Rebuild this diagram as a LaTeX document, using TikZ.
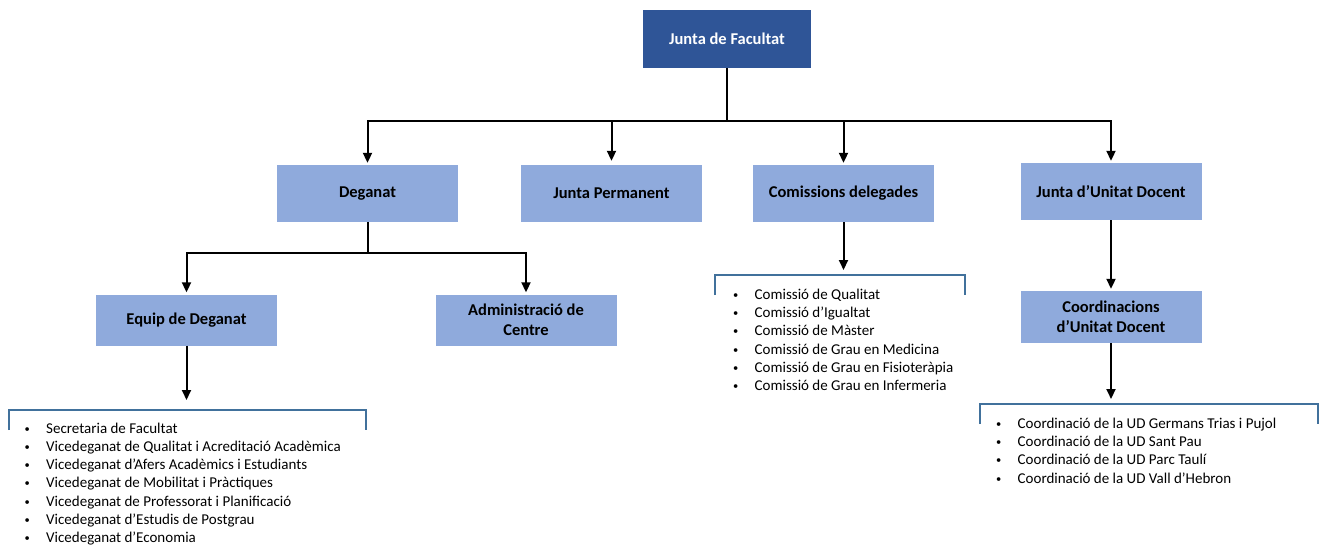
\documentclass[tikz,border=0pt]{standalone}
\usepackage{fontspec}
\setmainfont{Carlito}
\usepackage{xcolor}
\usepackage{graphicx}
\usetikzlibrary{arrows.meta}

\definecolor{darkbox}{HTML}{2F5597}
\definecolor{lightbox}{HTML}{8FAADC}
\definecolor{bracketcol}{HTML}{41719C}
\newcommand{\itm}[1]{\makebox[21.5pt][l]{\raisebox{1pt}{\scalebox{0.7}{\textbullet}}}#1}

\begin{document}
\begin{tikzpicture}[x=1pt, y=-1pt,
  topbox/.style={fill=darkbox, text=white, font=\bfseries\fontsize{16.5}{20}\selectfont, minimum width=168pt, minimum height=58pt, inner sep=0pt},
  unitbox/.style={fill=lightbox, text=black, font=\bfseries\fontsize{16.5}{20}\selectfont, minimum width=181pt, minimum height=57pt, inner sep=0pt, align=center},
  link/.style={line width=2pt},
  arr/.style={line width=2pt, -{Triangle[width=9pt,length=10pt]}},
  bracket/.style={draw=bracketcol, line width=1.3pt},
  items/.style={anchor=base west, align=left, inner sep=0pt, font=\fontsize{15}{18.2}\selectfont}]
  \useasboundingbox (0,0) rectangle (1320,552);

  \node[topbox] (jf) at (727,39) {Junta de Facultat};

  \node[unitbox] (deg) at (367.5,193.5) {Deganat};
  \node[unitbox] (jp) at (611.5,193.5) {Junta Permanent};
  \node[unitbox] (cd) at (843.5,193.5) {Comissions delegades};
  \node[unitbox] (jud) at (1111,191.5) {Junta d’Unitat Docent};

  \node[unitbox, minimum height=51pt] (eq) at (186.5,320) {Equip de Deganat};
  \node[unitbox, minimum height=51pt] (adm) at (526,320) {Administració de\\Centre};
  \node[unitbox, minimum height=52pt] (cud) at (1111,317) {Coordinacions\\d’Unitat Docent};

  \coordinate (bus1) at (727,121);
  \draw[link] (jf.south) -- (bus1);
  \draw[arr] (bus1) -| ([yshift=2pt]deg.north);
  \draw[arr] (bus1) -| ([yshift=4pt]jp.north);
  \draw[arr] (bus1) -| ([yshift=2pt]cd.north);
  \draw[arr] (bus1) -| ([yshift=2pt]jud.north);

  \coordinate (bus2) at (367.5,253);
  \draw[link] (deg.south) -- (bus2);
  \draw[arr] (bus2) -| ([yshift=2pt]eq.north);
  \draw[arr] (bus2) -| ([yshift=2pt]adm.north);
  \draw[arr] (jud.south) -- ([yshift=2pt]cud.north);

  % list brackets
  \coordinate (top1) at (186.5,410);
  \coordinate (top2) at (843.5,275);
  \coordinate (top3) at (1111,404);
  \draw[bracket] (9,430) |- (366,410) -- (366,430);
  \draw[bracket] (715,295) |- (965,275) -- (965,295);
  \draw[bracket] (980,424) |- (1318,404) -- (1318,424);
  \draw[arr] (eq.south) -- ([yshift=10pt]top1);
  \draw[arr] (cd.south) -- ([yshift=5pt]top2);
  \draw[arr] (cud.south) -- ([yshift=5pt]top3);

  \node[items] (l1) at (24.5,542.5) {\itm{Secretaria de Facultat}\\
    \itm{Vicedeganat de Qualitat i Acreditació Acadèmica}\\
    \itm{Vicedeganat d’Afers Acadèmics i Estudiants}\\
    \itm{Vicedeganat de Mobilitat i Pràctiques}\\
    \itm{Vicedeganat de Professorat i Planificació}\\
    \itm{Vicedeganat d’Estudis de Postgrau}\\
    \itm{Vicedeganat d’Economia}};
  \node[items] (l2) at (733,390.5) {\itm{Comissió de Qualitat}\\
    \itm{Comissió d’Igualtat}\\
    \itm{Comissió de Màster}\\
    \itm{Comissió de Grau en Medicina}\\
    \itm{Comissió de Grau en Fisioteràpia}\\
    \itm{Comissió de Grau en Infermeria}};
  \node[items] (l3) at (996,483) {\itm{Coordinació de la UD Germans Trias i Pujol}\\
    \itm{Coordinació de la UD Sant Pau}\\
    \itm{Coordinació de la UD Parc Taulí}\\
    \itm{Coordinació de la UD Vall d’Hebron}};

\end{tikzpicture}
\end{document}
